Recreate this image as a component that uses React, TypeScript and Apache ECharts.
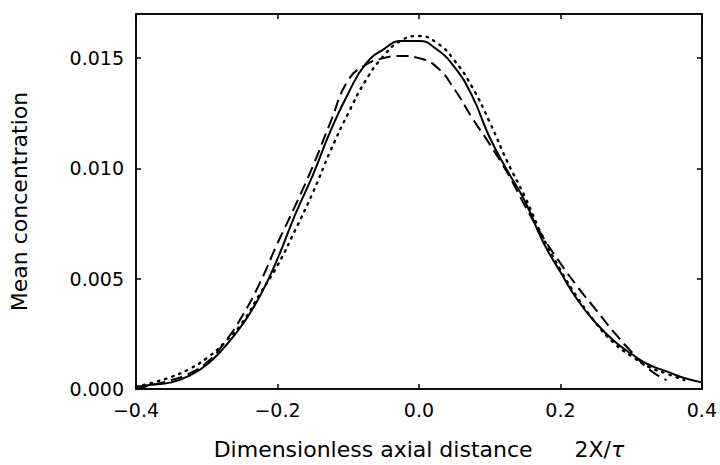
import React, { useEffect, useRef } from "react";
import * as echarts from "echarts";

const xGrid = [
  -0.4, -0.375, -0.35, -0.325, -0.3, -0.275, -0.25, -0.225, -0.2, -0.175, -0.15,
  -0.125, -0.1, -0.075, -0.05, -0.025, 0.0, 0.025, 0.05, 0.075, 0.1, 0.125, 0.15,
  0.175, 0.2, 0.225, 0.25, 0.275, 0.3, 0.325, 0.35, 0.375, 0.4,
];

const solidValues = [
  0.0001, 0.0002, 0.0003, 0.0006, 0.0011, 0.0019, 0.0029, 0.0042, 0.0059, 0.0079, 0.0097,
  0.0117, 0.0134, 0.01475, 0.0154, 0.01578, 0.01578, 0.0154, 0.0146, 0.0133, 0.0114, 0.0099, 0.0085,
  0.0067, 0.0053, 0.004, 0.003, 0.0022, 0.0016, 0.0011, 0.0008, 0.0005, 0.0003,
];

const dashedValues = [
  0.0, 0.0002, 0.0004, 0.0007, 0.0012, 0.0021, 0.0033, 0.0048, 0.0066, 0.0083, 0.0101,
  0.0121, 0.014, 0.0147, 0.015, 0.0151, 0.015, 0.0146, 0.0136, 0.0123, 0.0111, 0.0098, 0.0083,
  0.0069, 0.0057, 0.0046, 0.0036, 0.0026, 0.0017, 0.0009, 0.0004,
];

const dottedValues = [
  0.0001, 0.0003, 0.00055, 0.0009, 0.0014, 0.0021, 0.003, 0.0043, 0.0056, 0.0072, 0.0089,
  0.0108, 0.0125, 0.014, 0.0151, 0.0158, 0.016, 0.0157, 0.0149, 0.0137, 0.0121, 0.0103, 0.0087,
  0.0069, 0.0054, 0.0041, 0.003, 0.0021, 0.0015, 0.001, 0.0007, 0.0004,
];

const yTicks = [0.0, 0.005, 0.01, 0.015];

const FONT = "DejaVu Sans";

function pairs(values: number[]) {
  return values.map((v, i) => [xGrid[i], v]);
}

export default function App() {
  const ref = useRef<HTMLDivElement>(null);
  useEffect(() => {
    if (!ref.current) return;
    const chart = echarts.init(ref.current, null, { renderer: "svg" });
    const tickCommon = { show: true, inside: true, length: 5, lineStyle: { color: "#000", width: 1.5 } };
    chart.setOption({
      animation: false,
      backgroundColor: "#fff",
      grid: {
        left: 133, right: 17, top: 14, bottom: 74,
        show: true, borderColor: "#000", borderWidth: 1.5,
      },
      xAxis: [
        {
          type: "value", min: -0.4, max: 0.4, interval: 0.2, position: "bottom",
          axisLine: { show: true, onZero: false, lineStyle: { color: "#000", width: 1.5 } },
          axisTick: tickCommon,
          splitLine: { show: false },
          axisLabel: {
            color: "#000", fontFamily: FONT, fontSize: 19, margin: 11,
            formatter: (v: number) => {
              const s = Math.abs(v).toFixed(1);
              return v < -1e-9 ? "\u2212" + s : s;
            },
          },
          name: "{a|Dimensionless axial distance      2X/}{b|τ}",
          nameLocation: "middle",
          nameGap: 49,
          nameTextStyle: {
            rich: {
              a: { color: "#000", fontFamily: FONT, fontSize: 22 },
              b: { color: "#000", fontFamily: FONT, fontSize: 22, fontStyle: "italic" },
            },
          },
        },
        {
          type: "value", min: -0.4, max: 0.4, interval: 0.2, position: "top",
          axisLine: { show: true, onZero: false, lineStyle: { color: "#000", width: 1.5 } },
          axisTick: tickCommon,
          axisLabel: { show: false },
          splitLine: { show: false },
        },
      ],
      yAxis: [
        {
          type: "value", min: 0, max: 0.017, interval: 0.005, position: "left",
          axisLine: { show: true, onZero: false, lineStyle: { color: "#000", width: 1.5 } },
          axisTick: tickCommon,
          splitLine: { show: false },
          axisLabel: {
            color: "#000", fontFamily: FONT, fontSize: 19, margin: 12,
            formatter: (v: number) => (yTicks.some((t) => Math.abs(t - v) < 1e-9) ? v.toFixed(3) : ""),
          },
          name: "Mean concentration",
          nameLocation: "middle",
          nameGap: 106,
          nameTextStyle: { color: "#000", fontFamily: FONT, fontSize: 22 },
        },
        {
          type: "value", min: 0, max: 0.017, interval: 0.005, position: "right",
          axisLine: { show: true, onZero: false, lineStyle: { color: "#000", width: 1.5 } },
          axisTick: tickCommon,
          axisLabel: { show: false },
          splitLine: { show: false },
        },
      ],
      series: [
        {
          type: "line", name: "solid", data: pairs(solidValues), smooth: 0.5,
          showSymbol: false, symbol: "none",
          lineStyle: { color: "#000", width: 2, type: "solid" },
        },
        {
          type: "line", name: "dashed", data: pairs(dashedValues), smooth: 0.5,
          showSymbol: false, symbol: "none",
          lineStyle: { color: "#000", width: 2, type: [12, 6] },
        },
        {
          type: "line", name: "dotted", data: pairs(dottedValues), smooth: 0.5,
          showSymbol: false, symbol: "none",
          lineStyle: { color: "#000", width: 2.4, type: [1.5, 6], cap: "round" },
        },
      ],
    });
    return () => chart.dispose();
  }, []);
  return <div ref={ref} style={{ width: 720, height: 465, position: "absolute", left: 0, top: 0 }} />;
}
